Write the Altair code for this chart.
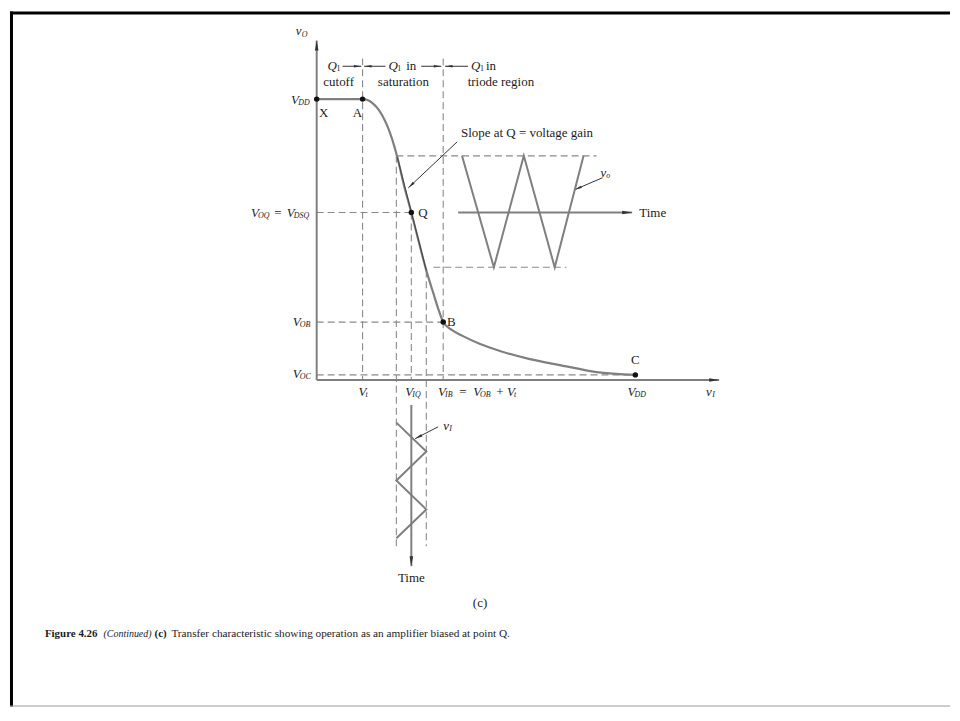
import math
import altair as alt
import pandas as pd

# ---------------- canvas / diagram units (V_DD = 10 on both axes) ----------------
W, H = 944, 698
XMIN, XMAX = -9.625, 19.875
YMIN, YMAX = -11.63, 13.121
PX = W / (XMAX - XMIN)
PY = H / (YMAX - YMIN)

FONT = "Liberation Serif"
INK = "#1c1c1c"
GRAY = "#7f7f7f"
DARK = "#333333"

# ---------------- transfer characteristic v_O(v_I) ----------------
curve_vi = [0.0, 1.44, 1.594, 1.75, 1.906, 2.0625, 2.219, 2.375, 2.53, 2.75, 2.97, 3.19,
            3.44, 3.66, 3.81, 3.97, 4.25, 4.59, 5.13, 5.75, 6.69, 7.63, 8.78, 10.0]
curve_vo = [10.0, 10.0, 9.965, 9.86, 9.68, 9.41, 9.04, 8.55, 7.93, 6.88, 5.96, 4.98,
            3.90, 3.09, 2.55, 2.06, 1.77, 1.56, 1.28, 1.03, 0.74, 0.53, 0.28, 0.18]

# tangent at Q (slope = voltage gain), lying on the straight part of the curve
tangent_x = [2.53, 3.44]
tangent_y = [7.93, 3.90]

# output waveform v_o (drawn beside the curve) and input waveform v_i (below)
vo_wave_x = [4.56, 5.56, 6.50, 7.47, 8.375]
vo_wave_y = [7.98, 4.01, 7.98, 4.01, 7.98]
vi_wave_x = [2.50, 3.44, 2.50, 3.44, 2.50]
vi_wave_y = [-1.52, -2.55, -3.58, -4.61, -5.64]

# marked points X, A, Q, B, C
pts_x = [0.0, 1.44, 2.97, 3.97, 10.0]
pts_y = [10.0, 10.0, 5.96, 2.06, 0.18]

# dashed construction lines (x, y, x2, y2)
dashed = [
    (1.44, 11.45, 1.44, 0.0),
    (3.97, 11.45, 3.97, 0.0),
    (2.50, 7.98, 2.50, -5.92),
    (3.44, 3.90, 3.44, -5.92),
    (2.97, 5.96, 2.97, 0.0),
    (2.50, 7.98, 8.78, 7.98),
    (3.66, 4.01, 7.84, 4.01),
    (0.0, 5.96, 2.97, 5.96),
    (0.0, 2.06, 3.97, 2.06),
    (0.0, 0.18, 10.0, 0.18),
]

# gray axes (tail -> tip)
axes_arrows = [
    (0.0, 0.0, 0.0, 12.09),
    (0.0, 0.0, 12.63, 0.0),
    (4.44, 5.96, 9.90, 5.96),
    (2.97, -0.89, 2.97, -6.63),
]
# thin dark arrows (tail -> tip)
thin_arrows = [
    (0.81, 11.17, 1.40, 11.17),
    (2.16, 11.17, 1.49, 11.17),
    (3.28, 11.17, 3.91, 11.17),
    (4.75, 11.17, 4.03, 11.17),
    (4.41, 8.48, 2.875, 6.84),
    (8.97, 7.20, 8.09, 6.77),
    (3.81, -1.67, 3.09, -2.09),
]

# ---------------- labels: (text, x, y, size, style, weight, align) ----------------
labels = [
    # top region
    ("Q", 0.34, 11.17, 13, "italic", "normal", "left"),
    ("Q", 2.25, 11.17, 13, "italic", "normal", "left"),
    ("Q", 4.84, 11.17, 13, "italic", "normal", "left"),
    ("1", 0.625, 11.06, 8, "normal", "normal", "left"),
    ("1", 2.53, 11.06, 8, "normal", "normal", "left"),
    ("1", 5.125, 11.06, 8, "normal", "normal", "left"),
    ("in", 2.81, 11.17, 13, "normal", "normal", "left"),
    ("in", 5.31, 11.17, 13, "normal", "normal", "left"),
    ("cutoff", 0.69, 10.60, 13, "normal", "normal", "center"),
    ("saturation", 2.72, 10.60, 13, "normal", "normal", "center"),
    ("triode region", 5.78, 10.60, 13, "normal", "normal", "center"),
    # axis names
    ("v", -0.66, 12.41, 13, "italic", "normal", "left"),
    ("O", -0.47, 12.30, 8, "italic", "normal", "left"),
    ("v", 12.22, -0.43, 13, "italic", "normal", "left"),
    ("I", 12.41, -0.54, 8, "italic", "normal", "left"),
    # point letters
    ("X", 0.22, 9.50, 13, "normal", "normal", "center"),
    ("A", 1.28, 9.50, 13, "normal", "normal", "center"),
    ("Q", 3.19, 5.96, 13, "normal", "normal", "left"),
    ("B", 4.09, 2.06, 13, "normal", "normal", "left"),
    ("C", 10.0, 0.71, 13, "normal", "normal", "center"),
    ("Slope at Q = voltage gain", 4.53, 8.79, 13, "normal", "normal", "left"),
    ("Time", 10.125, 5.96, 13, "normal", "normal", "left"),
    ("v", 8.91, 7.38, 13, "italic", "normal", "left"),
    ("o", 9.09, 7.27, 8, "italic", "normal", "left"),
    # left axis levels
    ("V", -0.81, 9.96, 13, "italic", "normal", "left"),
    ("DD", -0.58, 9.85, 8, "italic", "normal", "left"),
    ("V", -2.06, 5.96, 13, "italic", "normal", "left"),
    ("OQ", -1.84, 5.85, 8, "italic", "normal", "left"),
    ("=", -1.22, 5.96, 13, "normal", "normal", "center"),
    ("V", -0.94, 5.96, 13, "italic", "normal", "left"),
    ("DSQ", -0.72, 5.85, 8, "italic", "normal", "left"),
    ("V", -0.75, 2.06, 13, "italic", "normal", "left"),
    ("OB", -0.53, 1.95, 8, "italic", "normal", "left"),
    ("V", -0.75, 0.21, 13, "italic", "normal", "left"),
    ("OC", -0.53, 0.10, 8, "italic", "normal", "left"),
    # bottom axis levels
    ("V", 1.31, -0.43, 13, "italic", "normal", "left"),
    ("t", 1.53, -0.54, 8, "italic", "normal", "left"),
    ("V", 2.78, -0.43, 13, "italic", "normal", "left"),
    ("IQ", 3.00, -0.54, 8, "italic", "normal", "left"),
    ("V", 3.81, -0.43, 13, "italic", "normal", "left"),
    ("IB", 4.03, -0.54, 8, "italic", "normal", "left"),
    ("=", 4.59, -0.43, 13, "normal", "normal", "center"),
    ("V", 4.91, -0.43, 13, "italic", "normal", "left"),
    ("OB", 5.125, -0.54, 8, "italic", "normal", "left"),
    ("+", 5.75, -0.43, 13, "normal", "normal", "center"),
    ("V", 5.97, -0.43, 13, "italic", "normal", "left"),
    ("t", 6.19, -0.54, 8, "italic", "normal", "left"),
    ("V", 9.75, -0.43, 13, "italic", "normal", "left"),
    ("DD", 9.97, -0.54, 8, "italic", "normal", "left"),
    # input waveform
    ("v", 3.97, -1.63, 13, "italic", "normal", "left"),
    ("I", 4.16, -1.74, 8, "italic", "normal", "left"),
    ("Time", 2.97, -7.06, 13, "normal", "normal", "center"),
    ("(c)", 5.125, -7.94, 13, "normal", "normal", "center"),
    # caption
    ("Figure  4.26", -8.53, -9.04, 11, "normal", "bold", "left"),
    ("(Continued)", -6.69, -9.04, 10, "italic", "normal", "left"),
    ("(c)", -5.09, -9.04, 11, "normal", "bold", "left"),
    ("Transfer characteristic showing operation as an amplifier biased at point Q.",
     -4.56, -9.04, 11.3, "normal", "normal", "left"),
]

# ---------------- helpers ----------------
xs = alt.Scale(domain=[XMIN, XMAX], nice=False, zero=False)
ys = alt.Scale(domain=[YMIN, YMAX], nice=False, zero=False)


def ex(f="x"):
    return alt.X(f + ":Q", scale=xs, axis=None)


def ey(f="y"):
    return alt.Y(f + ":Q", scale=ys, axis=None)


def seg_df(rows):
    return pd.DataFrame(rows, columns=["x", "y", "x2", "y2"])


def rule_layer(df, color, width, dash=None):
    kw = dict(color=color, strokeWidth=width)
    if dash:
        kw["strokeDash"] = dash
    return alt.Chart(df).mark_rule(**kw).encode(
        x=ex("x"), y=ey("y"), x2=alt.X2("x2:Q"), y2=alt.Y2("y2:Q"))


ARROW = "M0,-1L0.36,1L-0.36,1Z"


def head_df(rows, size):
    out = []
    for tx, ty, hx, hy in rows:
        dxp = (hx - tx) * PX
        dyp = -(hy - ty) * PY
        ln = math.hypot(dxp, dyp)
        ang = math.degrees(math.atan2(dxp, -dyp)) % 360
        h = math.sqrt(size) / 2
        cx = hx - dxp / ln * h / PX
        cy = hy + dyp / ln * h / PY
        out.append({"x": cx, "y": cy, "ang": ang, "s": size})
    return pd.DataFrame(out)


def head_layer(df, color):
    return alt.Chart(df).mark_point(shape=ARROW, filled=True, opacity=1, color=color,
                                    strokeWidth=0).encode(
        x=ex(), y=ey(), size=alt.Size("s:Q", scale=None),
        angle=alt.Angle("ang:Q", scale=None))


layers = []

# frame of the slide
frame = seg_df([
    (XMIN, YMAX - 1.5 / PY, XMAX, YMAX - 1.5 / PY),
    (XMIN + 1.5 / PX, YMIN, XMIN + 1.5 / PX, YMAX),
])
layers.append(rule_layer(frame, "#000000", 3))
layers.append(rule_layer(seg_df([(XMIN, YMIN + 0.5 / PY, XMAX, YMIN + 0.5 / PY)]), "#9a9a9a", 1))

# dashed construction lines
layers.append(rule_layer(seg_df(dashed), "#8a8a8a", 1.1, [7, 4]))

# axes and time axes
layers.append(rule_layer(seg_df(axes_arrows), GRAY, 2))
layers.append(head_layer(head_df(axes_arrows, 100), DARK))

# thin annotation arrows
layers.append(rule_layer(seg_df(thin_arrows), DARK, 1))
layers.append(head_layer(head_df(thin_arrows, 56), DARK))

# transfer curve
curve = pd.DataFrame({"x": curve_vi, "y": curve_vo, "i": range(len(curve_vi))})
layers.append(alt.Chart(curve).mark_line(color=GRAY, strokeWidth=2.2, interpolate="monotone")
              .encode(x=ex(), y=ey(), order="i:Q"))
tan = pd.DataFrame({"x": tangent_x, "y": tangent_y, "i": [0, 1]})
layers.append(alt.Chart(tan).mark_line(color="#444444", strokeWidth=1).encode(
    x=ex(), y=ey(), order="i:Q"))

# waveforms
wave = pd.concat([
    pd.DataFrame({"x": vo_wave_x, "y": vo_wave_y, "i": range(5), "s": "vo"}),
    pd.DataFrame({"x": vi_wave_x, "y": vi_wave_y, "i": range(5), "s": "vi"}),
])
layers.append(alt.Chart(wave).mark_line(color=GRAY, strokeWidth=2).encode(
    x=ex(), y=ey(), detail="s:N", order="i:Q"))

# points
pts = pd.DataFrame({"x": pts_x, "y": pts_y})
layers.append(alt.Chart(pts).mark_point(filled=True, color="#111111", size=30, opacity=1)
              .encode(x=ex(), y=ey()))

# texts
lab = pd.DataFrame(labels, columns=["t", "x", "y", "size", "style", "weight", "align"])
for (st, wt, al), g in lab.groupby(["style", "weight", "align"]):
    layers.append(alt.Chart(g.reset_index(drop=True)).mark_text(
        font=FONT, fontStyle=st, fontWeight=wt, align=al, baseline="middle", color=INK)
        .encode(x=ex(), y=ey(), text="t:N", size=alt.Size("size:Q", scale=None)))

chart = alt.layer(*layers).properties(width=W, height=H, padding=0,
                                      background="white").configure_view(stroke=None)

chart.save("out.html", embed_options={"renderer": "svg", "actions": False})
